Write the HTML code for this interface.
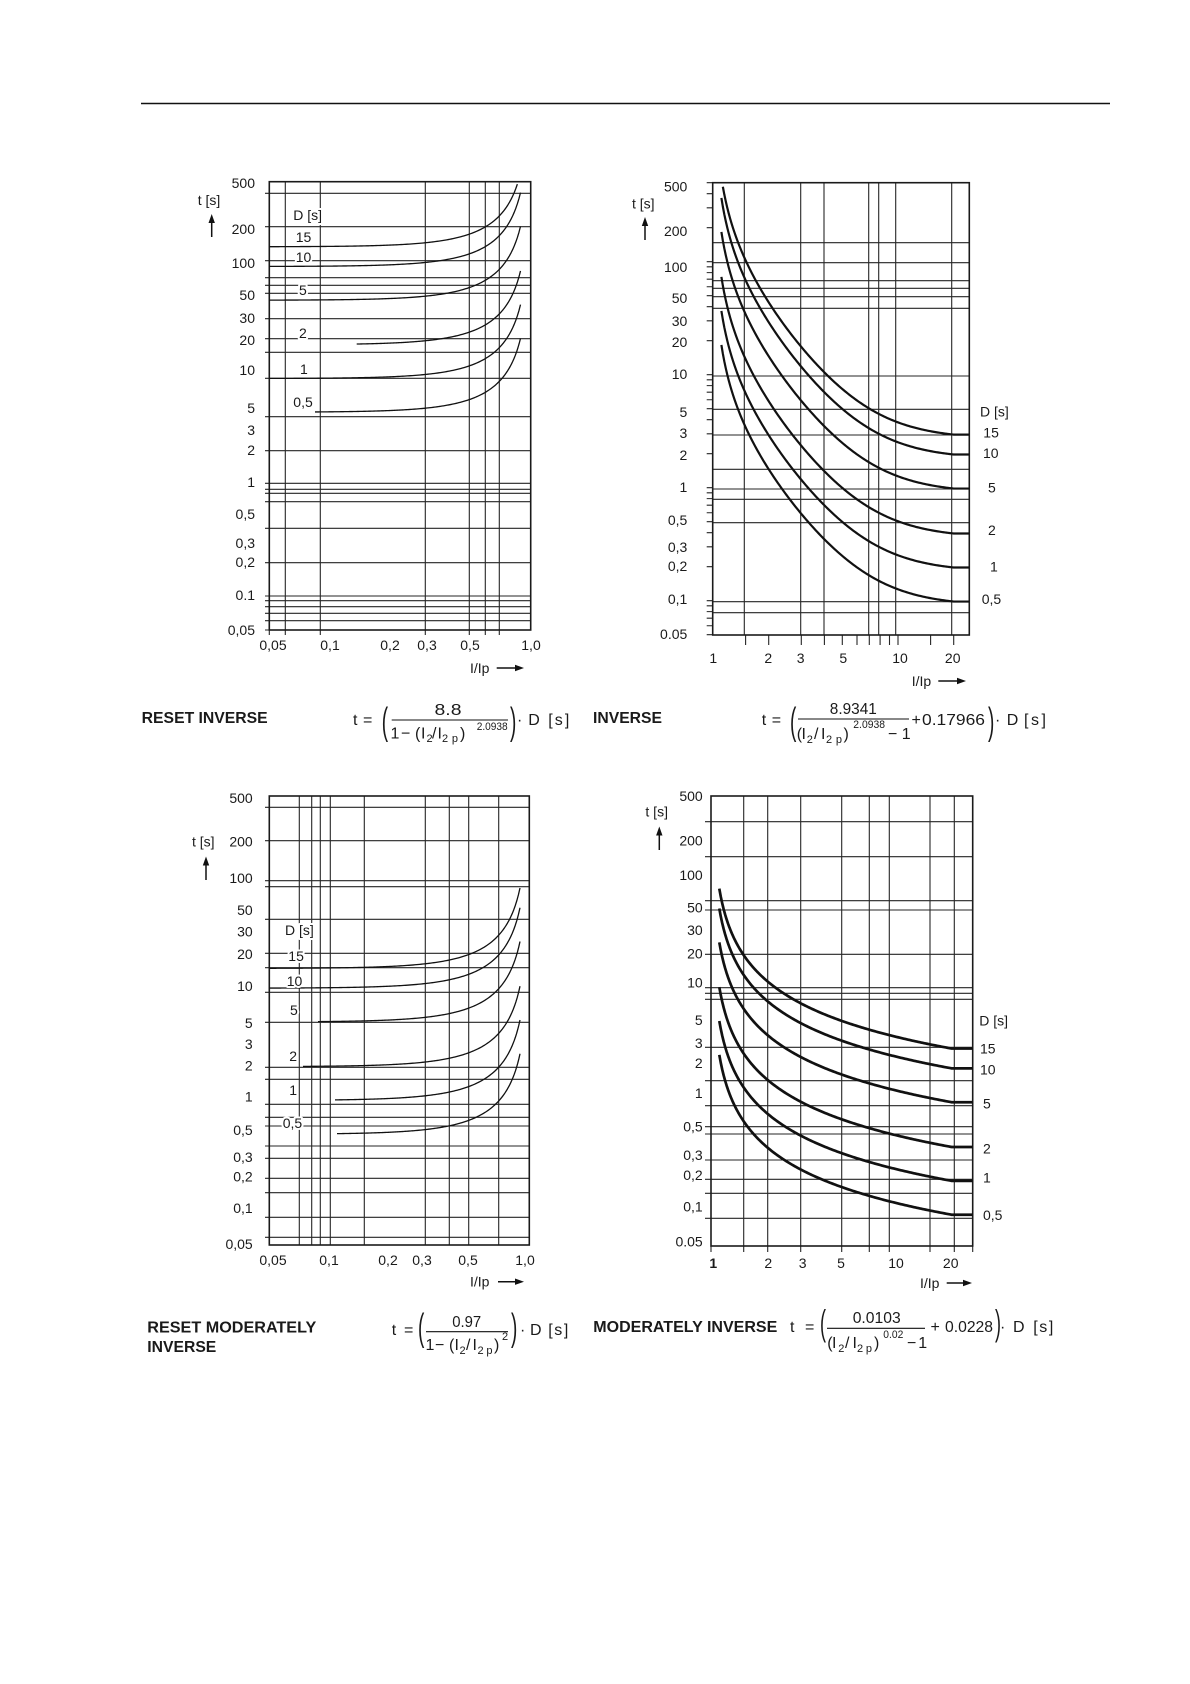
<!DOCTYPE html>
<html><head><meta charset="utf-8"><style>
html,body{margin:0;padding:0;background:#fff;}
svg{display:block;}
text{font-family:"Liberation Sans",Arial,sans-serif;fill:#1a1a1a;}
.ax{font-size:14px;}
.lb{font-size:14px;paint-order:stroke;stroke:#fff;stroke-width:4px;stroke-linejoin:round;}
.g{stroke:#262626;stroke-width:1.1;fill:none;}
.bx{stroke:#1a1a1a;stroke-width:1.6;fill:none;}
.f{font-size:16px;}
.s{font-size:11px;}
.b{font-size:15.5px;font-weight:bold;}
</style></head><body>
<svg id="s" width="1190" height="1684" viewBox="0 0 1190 1684" xmlns="http://www.w3.org/2000/svg">
<rect width="1190" height="1684" fill="#fff"/>
<line x1="141" y1="103.5" x2="1110" y2="103.5" stroke="#111" stroke-width="1.5"/>

<!-- ===== Chart 1: RESET INVERSE ===== -->
<path class="g" d="M265 193.3H530.7M265 226.7H530.7M265 260.7H530.7M265 277.7H530.7M265 285.3H530.7M265 293.3H530.7M265 318.7H530.7M265 338.7H530.7M265 352.3H530.7M265 378.3H530.7M265 416.7H530.7M265 450.7H530.7M265 483.3H530.7M265 489.3H530.7M265 493.3H530.7M265 501.7H530.7M265 528.3H530.7M265 562.7H530.7M265 596H530.7M265 600.7H530.7M265 606.7H530.7M265 613.3H530.7M265 620.7H530.7"/>
<path class="g" d="M285.3 181.7V635M320.3 181.7V635M425.3 181.7V635M469.3 181.7V635M485.3 181.7V635M499.3 181.7V635M269.3 630V635M265 630H269.3"/>
<rect class="bx" x="269.3" y="181.7" width="261.4" height="448.3"/>
<g class="ax" text-anchor="end">
<text x="255" y="188">500</text><text x="255" y="234">200</text><text x="255" y="268">100</text><text x="255" y="300">50</text><text x="255" y="323">30</text><text x="255" y="345">20</text><text x="255" y="375">10</text><text x="255" y="413">5</text><text x="255" y="435">3</text><text x="255" y="455">2</text><text x="255" y="487">1</text><text x="255" y="519">0,5</text><text x="255" y="548">0,3</text><text x="255" y="567">0,2</text><text x="255" y="600">0.1</text><text x="255" y="635">0,05</text>
</g>
<g class="ax" text-anchor="middle">
<text x="273" y="650">0,05</text><text x="330" y="650">0,1</text><text x="390" y="650">0,2</text><text x="427" y="650">0,3</text><text x="470" y="650">0,5</text><text x="531" y="650">1,0</text>
</g>
<text class="ax" x="209" y="205" text-anchor="middle">t [s]</text>
<line x1="211.7" y1="237" x2="211.7" y2="221" stroke="#111" stroke-width="1.5"/><polygon points="211.7,214 208.5,223 214.9,223" fill="#111"/>
<text class="ax" x="470" y="673">I/Ip</text>
<line x1="496.7" y1="668" x2="516" y2="668" stroke="#111" stroke-width="1.5"/><polygon points="524,668 515,664.8 515,671.2" fill="#111"/>
<g id="c1"></g>
<g class="lb">
<text x="293.3" y="220">D [s]</text><text x="295.7" y="242">15</text><text x="295.7" y="262">10</text><text x="299" y="295">5</text><text x="299" y="338">2</text><text x="300" y="374">1</text><text x="293.3" y="407">0,5</text>
</g>
<text class="b" x="141.7" y="723" textLength="126" lengthAdjust="spacingAndGlyphs">RESET INVERSE</text>
<text class="f" x="353" y="725">t</text><text class="f" x="363" y="725">=</text>
<text transform="translate(381.7,734) scale(0.5,1)" font-size="38">(</text>
<text class="f" x="448" y="715" text-anchor="middle" font-size="17" textLength="27" lengthAdjust="spacingAndGlyphs">8.8</text>
<line x1="391.7" y1="720" x2="508" y2="720" stroke="#111" stroke-width="1.1"/>
<text class="f" x="390.5" y="738.5">1</text><text class="f" x="401" y="738.5">−</text><text class="f" x="415" y="738.5">(</text><text class="f" x="421" y="738.5">I</text><text class="s" x="426.5" y="742">2</text><text class="f" x="432" y="738.5">/</text><text class="f" x="437.5" y="738.5">I</text><text class="s" x="442" y="742" textLength="16" lengthAdjust="spacing">2p</text><text class="f" x="460" y="738.5">)</text><text class="s" x="476.7" y="730" textLength="31" lengthAdjust="spacingAndGlyphs">2.0938</text>
<text transform="translate(510,734) scale(0.5,1)" font-size="38">)</text>
<text class="f" x="517" y="725">·</text><text class="f" x="528.3" y="725">D</text><text class="f" x="548.3" y="725" textLength="21" lengthAdjust="spacing">[s]</text>

<!-- ===== Chart 2: INVERSE ===== -->
<path class="g" d="M712.7 242.7H969.3M712.7 262.7H969.3M712.7 280.7H969.3M712.7 288.3H969.3M712.7 296.7H969.3M712.7 308.3H969.3M712.7 376H969.3M712.7 409.3H969.3M712.7 435H969.3M712.7 469.3H969.3M712.7 489H969.3M712.7 499.3H969.3M712.7 522.7H969.3M712.7 601.7H969.3M712.7 612.7H969.3"/>
<path class="g" d="M744.3 182.7V635M800.7 182.7V635M824 182.7V635M868.7 182.7V635M878.7 182.7V635M895.7 182.7V635M951.7 182.7V635"/>
<path class="g" d="M745.6 635V645M768.7 635V645M801.3 635V645M824.4 635V645M842.3 635V645M857 635V645M869.3 635V645M880.1 635V645M889.5 635V645M898 635V645M930.6 635V645M953.7 635V645"/>
<g id="t2"></g>
<rect class="bx" x="712.7" y="182.7" width="256.6" height="452.3"/>
<g class="ax" text-anchor="end">
<text x="687.3" y="191.5">500</text><text x="687.3" y="236">200</text><text x="687.3" y="272">100</text><text x="687.3" y="303">50</text><text x="687.3" y="326">30</text><text x="687.3" y="347">20</text><text x="687.3" y="379">10</text><text x="687.3" y="417">5</text><text x="687.3" y="438">3</text><text x="687.3" y="460">2</text><text x="687.3" y="492">1</text><text x="687.3" y="525">0,5</text><text x="687.3" y="552">0,3</text><text x="687.3" y="571">0,2</text><text x="687.3" y="604">0,1</text><text x="687.3" y="639">0.05</text>
</g>
<g class="ax" text-anchor="middle">
<text x="713.3" y="663">1</text><text x="768.3" y="663">2</text><text x="800.7" y="663">3</text><text x="843.3" y="663">5</text><text x="900" y="663">10</text><text x="952.7" y="663">20</text>
</g>
<text class="ax" x="643.3" y="208.5" text-anchor="middle">t [s]</text>
<line x1="645" y1="240" x2="645" y2="224" stroke="#111" stroke-width="1.5"/><polygon points="645,217 641.8,226 648.2,226" fill="#111"/>
<text class="ax" x="911.7" y="686">I/Ip</text>
<line x1="938.3" y1="681" x2="958" y2="681" stroke="#111" stroke-width="1.5"/><polygon points="966,681 957,677.8 957,684.2" fill="#111"/>
<g class="ax">
<text x="980" y="416.5">D [s]</text><text x="983.3" y="437.5">15</text><text x="983" y="458">10</text><text x="988" y="492.5">5</text><text x="988" y="535">2</text><text x="990" y="571.5">1</text><text x="981.7" y="604">0,5</text>
</g>
<g id="c2"></g>
<text class="b" x="593" y="723" textLength="69" lengthAdjust="spacingAndGlyphs">INVERSE</text>
<text class="f" x="761.7" y="725">t</text><text class="f" x="771.7" y="725">=</text>
<text transform="translate(790,734) scale(0.5,1)" font-size="38">(</text>
<text class="f" x="853.3" y="714" text-anchor="middle" font-size="17" textLength="47" lengthAdjust="spacingAndGlyphs">8.9341</text>
<line x1="798" y1="719" x2="909" y2="719" stroke="#111" stroke-width="1.1"/>
<text class="f" x="796.7" y="739">(</text><text class="f" x="801.5" y="739">I</text><text class="s" x="806.7" y="743">2</text><text class="f" x="814" y="739">/</text><text class="f" x="821" y="739">I</text><text class="s" x="826" y="743" textLength="16" lengthAdjust="spacing">2p</text><text class="f" x="843.5" y="739">)</text><text class="s" x="853.3" y="728" textLength="31.7" lengthAdjust="spacingAndGlyphs">2.0938</text><text class="f" x="888" y="739">−</text><text class="f" x="901.7" y="739">1</text>
<text class="f" x="911.5" y="725">+</text><text class="f" x="922" y="725" textLength="63" lengthAdjust="spacingAndGlyphs">0.17966</text>
<text transform="translate(988,734) scale(0.5,1)" font-size="38">)</text>
<text class="f" x="995" y="725">·</text><text class="f" x="1006.7" y="725">D</text><text class="f" x="1024" y="725" textLength="22" lengthAdjust="spacing">[s]</text>

<!-- ===== Chart 3: RESET MODERATELY INVERSE ===== -->
<path class="g" d="M265 807.3H529.3M265 840.7H529.3M265 880.7H529.3M265 886.7H529.3M265 919.3H529.3M265 953.3H529.3M265 967.7H529.3M265 992.3H529.3M265 1022.3H529.3M265 1067.3H529.3M265 1079.3H529.3M265 1104.3H529.3M265 1117.3H529.3M265 1126H529.3M265 1146H529.3M265 1158.3H529.3M265 1178.3H529.3M265 1192.7H529.3M265 1217.3H529.3M265 1237.3H529.3"/>
<path class="g" d="M299.3 796V1245M311.7 796V1245M320.3 796V1245M330.3 796V1245M364.3 796V1245M425.3 796V1245M449.3 796V1245M468.7 796V1245M498.7 796V1245"/>
<rect class="bx" x="269.3" y="796" width="260" height="449"/>
<g class="ax" text-anchor="end">
<text x="252.7" y="803">500</text><text x="252.7" y="846.5">200</text><text x="252.7" y="883">100</text><text x="252.7" y="915">50</text><text x="252.7" y="936.5">30</text><text x="252.7" y="959">20</text><text x="252.7" y="991">10</text><text x="252.7" y="1028">5</text><text x="252.7" y="1049">3</text><text x="252.7" y="1070.5">2</text><text x="252.7" y="1101.5">1</text><text x="252.7" y="1135">0,5</text><text x="252.7" y="1162">0,3</text><text x="252.7" y="1181.5">0,2</text><text x="252.7" y="1213">0,1</text><text x="252.7" y="1249">0,05</text>
</g>
<g class="ax" text-anchor="middle">
<text x="273" y="1265">0,05</text><text x="329" y="1265">0,1</text><text x="388" y="1265">0,2</text><text x="422" y="1265">0,3</text><text x="468" y="1265">0,5</text><text x="525" y="1265">1,0</text>
</g>
<text class="ax" x="203.3" y="846.5" text-anchor="middle">t [s]</text>
<line x1="206" y1="880" x2="206" y2="864" stroke="#111" stroke-width="1.5"/><polygon points="206,856.5 202.8,865.5 209.2,865.5" fill="#111"/>
<text class="ax" x="470" y="1286.5">I/Ip</text>
<line x1="498" y1="1281.7" x2="516" y2="1281.7" stroke="#111" stroke-width="1.5"/><polygon points="524,1281.7 515,1278.5 515,1284.9" fill="#111"/>
<g id="c3"></g>
<g class="lb">
<text x="285" y="935">D [s]</text><text x="288.3" y="961">15</text><text x="286.7" y="986">10</text><text x="290" y="1015">5</text><text x="289.3" y="1061">2</text><text x="289.3" y="1095">1</text><text x="282.7" y="1128">0,5</text>
</g>
<text class="b" x="147.3" y="1332.5" textLength="169" lengthAdjust="spacingAndGlyphs">RESET MODERATELY</text>
<text class="b" x="147.3" y="1352" textLength="69" lengthAdjust="spacingAndGlyphs">INVERSE</text>
<text class="f" x="391.7" y="1335">t</text><text class="f" x="404" y="1335">=</text>
<text transform="translate(418,1340) scale(0.5,1)" font-size="38">(</text>
<text class="f" x="466.7" y="1327" text-anchor="middle" font-size="17" textLength="29" lengthAdjust="spacingAndGlyphs">0.97</text>
<line x1="426" y1="1331.7" x2="508" y2="1331.7" stroke="#111" stroke-width="1.1"/>
<text class="f" x="425.5" y="1350">1</text><text class="f" x="435" y="1350">−</text><text class="f" x="449" y="1350">(</text><text class="f" x="454.5" y="1350">I</text><text class="s" x="459.5" y="1354">2</text><text class="f" x="466" y="1350">/</text><text class="f" x="472.5" y="1350">I</text><text class="s" x="477.5" y="1354" textLength="15" lengthAdjust="spacing">2p</text><text class="f" x="494" y="1350">)</text><text class="s" x="502" y="1340">2</text>
<text transform="translate(511,1340) scale(0.5,1)" font-size="38">)</text>
<text class="f" x="520" y="1335">·</text><text class="f" x="530" y="1335">D</text><text class="f" x="548.3" y="1335" textLength="20" lengthAdjust="spacing">[s]</text>

<!-- ===== Chart 4: MODERATELY INVERSE ===== -->
<path class="g" d="M705 821.7H972.7M705 856.7H972.7M705 900.7H972.7M705 910H972.7M705 954.3H972.7M705 987.7H972.7M705 993.3H972.7M705 999.3H972.7M705 1047.3H972.7M705 1080.7H972.7M705 1105.7H972.7M705 1126.7H972.7M705 1134H972.7M705 1160H972.7M705 1179.3H972.7M705 1193.3H972.7M705 1218.3H972.7"/>
<path class="g" d="M743.7 796V1252M767.7 796V1252M800.7 796V1252M841.7 796V1252M869.3 796V1252M889.3 796V1252M930 796V1252M954.3 796V1252M711 1246V1252M972.7 1246V1252"/>
<rect class="bx" x="711" y="796" width="261.7" height="450" stroke-width="2"/>
<g class="ax" text-anchor="end">
<text x="702.7" y="801">500</text><text x="702.7" y="845.5">200</text><text x="702.7" y="880">100</text><text x="702.7" y="912.5">50</text><text x="702.7" y="935">30</text><text x="702.7" y="958.5">20</text><text x="702.7" y="987.5">10</text><text x="702.7" y="1025">5</text><text x="702.7" y="1048">3</text><text x="702.7" y="1068">2</text><text x="702.7" y="1098">1</text><text x="702.7" y="1131.5">0,5</text><text x="702.7" y="1160">0,3</text><text x="702.7" y="1180">0,2</text><text x="702.7" y="1211.5">0,1</text><text x="702.7" y="1246.5">0.05</text>
</g>
<g class="ax" text-anchor="middle" font-size="14.5">
<text x="713.3" y="1268" font-weight="bold">1</text><text x="768.3" y="1268">2</text><text x="802.7" y="1268">3</text><text x="841" y="1268">5</text><text x="896" y="1268">10</text><text x="950.7" y="1268">20</text>
</g>
<text class="ax" x="656.7" y="816.5" text-anchor="middle">t [s]</text>
<line x1="659.3" y1="850" x2="659.3" y2="834" stroke="#111" stroke-width="1.5"/><polygon points="659.3,826.5 656.1,835.5 662.5,835.5" fill="#111"/>
<text class="ax" x="920" y="1288" font-size="14.5">I/Ip</text>
<line x1="946.7" y1="1283" x2="964" y2="1283" stroke="#111" stroke-width="1.5"/><polygon points="972,1283 963,1279.8 963,1286.2" fill="#111"/>
<g class="ax" font-size="14.5">
<text x="979.3" y="1025.5">D [s]</text><text x="980" y="1053.5">15</text><text x="980" y="1074.5">10</text><text x="983" y="1108.5">5</text><text x="983" y="1153.5">2</text><text x="983" y="1182.5">1</text><text x="983" y="1220">0,5</text>
</g>
<g id="c4"></g>
<text class="b" x="593.3" y="1332" textLength="184" lengthAdjust="spacingAndGlyphs">MODERATELY INVERSE</text>
<text class="f" x="790" y="1332">t</text><text class="f" x="805" y="1332">=</text>
<text transform="translate(820,1335) scale(0.5,1)" font-size="36">(</text>
<text class="f" x="876.7" y="1323" text-anchor="middle" font-size="17" textLength="48" lengthAdjust="spacingAndGlyphs">0.0103</text>
<line x1="827" y1="1328.3" x2="925" y2="1328.3" stroke="#111" stroke-width="1.1"/>
<text class="f" x="827.3" y="1348">(</text><text class="f" x="832" y="1348">I</text><text class="s" x="838.3" y="1352">2</text><text class="f" x="845" y="1348">/</text><text class="f" x="852.5" y="1348">I</text><text class="s" x="857" y="1352" textLength="15" lengthAdjust="spacing">2p</text><text class="f" x="874" y="1348">)</text><text class="s" x="883.3" y="1338" textLength="20" lengthAdjust="spacingAndGlyphs">0.02</text><text class="f" x="907" y="1348">−</text><text class="f" x="918.3" y="1348">1</text>
<text class="f" x="930.5" y="1332">+</text><text class="f" x="945" y="1332" textLength="48" lengthAdjust="spacingAndGlyphs">0.0228</text>
<text transform="translate(995,1335) scale(0.5,1)" font-size="36">)</text>
<text class="f" x="1000" y="1332">·</text><text class="f" x="1013" y="1332">D</text><text class="f" x="1033.3" y="1332" textLength="20" lengthAdjust="spacing">[s]</text>
</svg>
<script>
(function(){
var NS="http://www.w3.org/2000/svg",L=Math.log10;
function mk(g,d,sw){var p=document.createElementNS(NS,"path");p.setAttribute("d",d);p.setAttribute("fill","none");p.setAttribute("stroke","#111");p.setAttribute("stroke-width",sw);p.setAttribute("stroke-linejoin","round");p.setAttribute("stroke-linecap","butt");document.getElementById(g).appendChild(p);}
function draw(c){
 c.curves.forEach(function(cv){
  var D=cv[0],ps=cv[1],pe=cv[2],d="",n=160,started=false,lx,ly;
  for(var i=0;i<=n;i++){
   var p=ps+(pe-ps)*i/n,x=c.xi(p),t=c.f(x)*D;
   if(!(t>0)||t>c.tmax)continue;
   var y=c.ym(t);
   d+=(started?"L":"M")+p.toFixed(2)+" "+y.toFixed(2);started=true;lx=p;ly=y;
  }
  if(c.flat&&started)d+="L"+c.flat+" "+ly.toFixed(2);
  mk(c.id,d,c.sw);
 });
}
draw({id:"c1",sw:1.3,tmax:500,
 f:function(x){return 8.8/(1-Math.pow(x,2.0938));},
 xi:function(p){return 0.05*Math.pow(10,(p-269.3)/201);},
 ym:function(t){return 182+112*L(500/t);},
 curves:[[15,269.3,520.5],[10,269.3,520.5],[5,269.3,520.5],[2,356.7,520.5],[1,269.3,520.5],[0.5,315,520.5]]});
draw({id:"c2",sw:2.2,tmax:500,flat:969.3,
 f:function(x){return 8.9341/(Math.pow(x,2.0938)-1)+0.17966;},
 xi:function(p){return Math.pow(10,(p-713)/185);},
 ym:function(t){return 182.7+113*L(500/t);},
 curves:[[15,721.4,953.7],[10,721.4,953.7],[5,721.4,953.7],[2,721.4,953.7],[1,721.4,953.7],[0.5,721.4,953.7]]});
draw({id:"c3",sw:1.3,tmax:500,
 f:function(x){return 0.97/(1-x*x);},
 xi:function(p){return 0.05*Math.pow(10,(p-269.3)/199.8);},
 ym:function(t){return 796+112.25*L(500/t);},
 curves:[[15,269.3,520],[10,269.3,520],[5,318,520],[2,303,520],[1,335,520],[0.5,337,520]]});
draw({id:"c4",sw:2.7,tmax:500,flat:972.7,
 f:function(x){return 0.0103/(Math.pow(x,0.02)-1)+0.0228;},
 xi:function(p){return Math.pow(10,(p-711)/185);},
 ym:function(t){return 796+112.5*L(500/t);},
 curves:[[15,719.3,951.7],[10,719.3,951.7],[5,719.3,951.7],[2,719.3,951.7],[1,719.3,951.7],[0.5,719.3,951.7]]});
var d="";
[0.05,0.06,0.07,0.08,0.09,0.1,0.2,0.3,0.4,0.5,0.6,0.7,0.8,0.9,1,2,3,4,5,6,7,8,9,10,20,30,40,50,60,70,80,90,100,200,300,400,500].forEach(function(t){var y=182.7+113*L(500/t);d+="M706.7 "+y.toFixed(2)+"H712.7";});
var p=document.createElementNS(NS,"path");p.setAttribute("d",d);p.setAttribute("class","g");document.getElementById("t2").appendChild(p);
})();
</script>
</body></html>
